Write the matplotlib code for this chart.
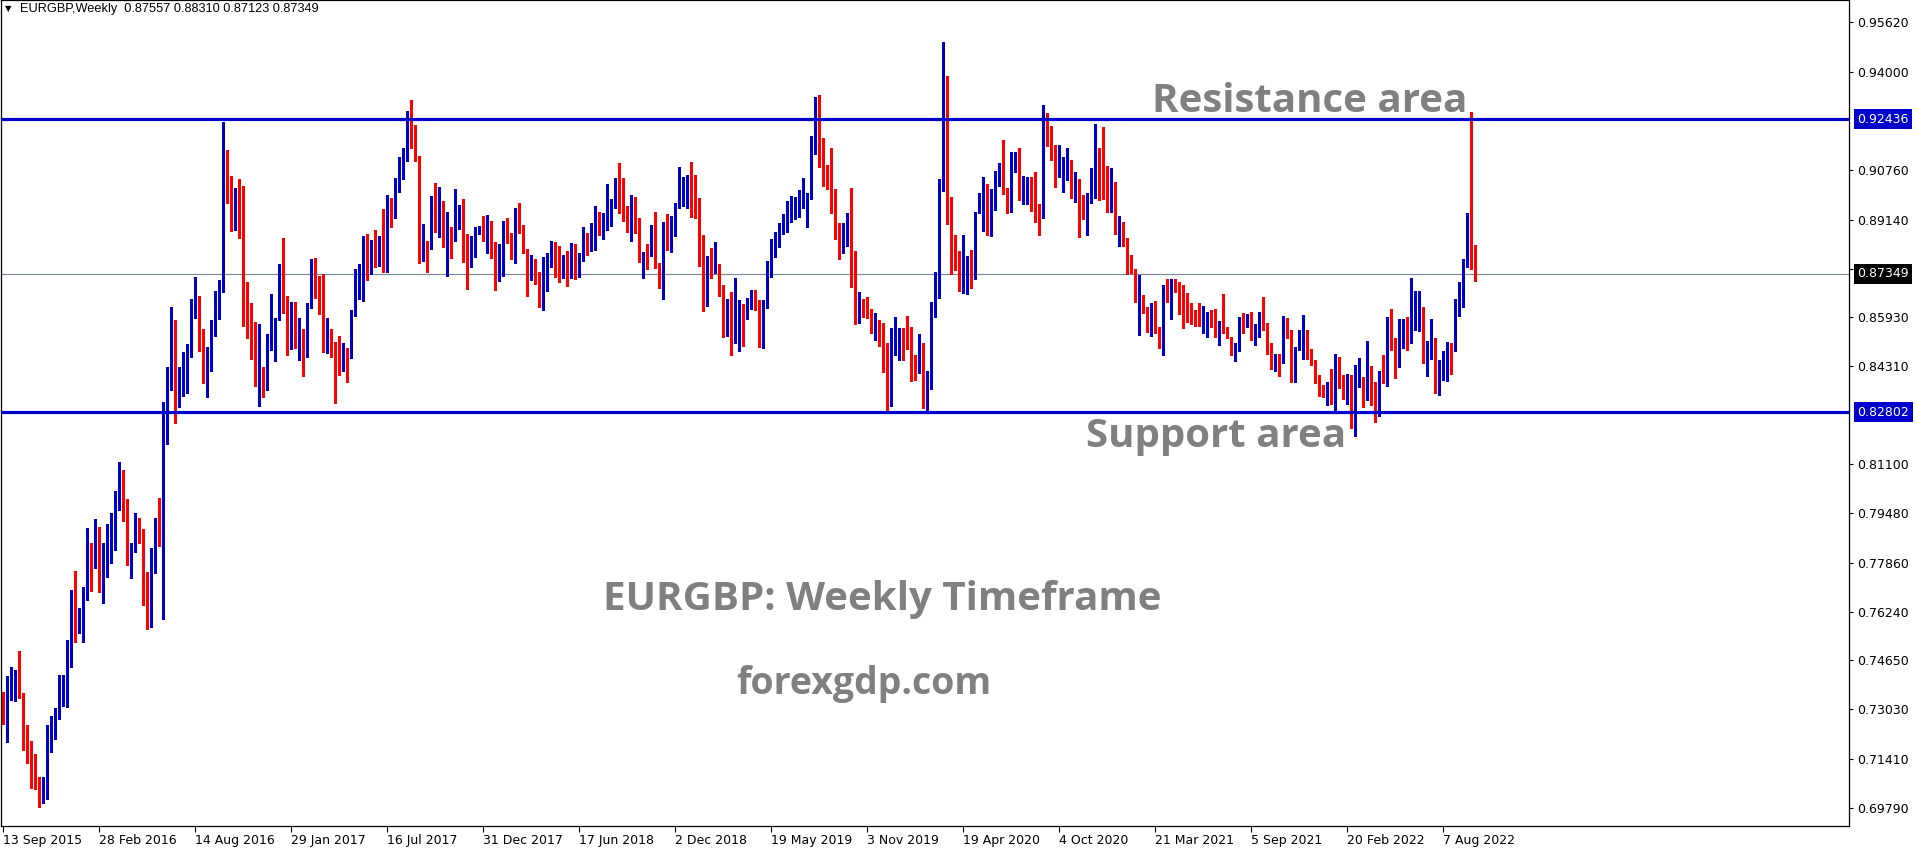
import numpy as np
import matplotlib
matplotlib.use('Agg')
from matplotlib import pyplot as plt

# EURGBP weekly candles, week of 13 Sep 2015 .. 2 Oct 2022
opens = [
    0.7350, 0.7260, 0.7365, 0.7383, 0.7420, 0.7354, 0.7194, 0.7139, 0.7126, 0.7044,
    0.7000, 0.7040, 0.7188, 0.7208, 0.7274, 0.7318, 0.7372, 0.7509, 0.7663, 0.7559,
    0.7597, 0.7682, 0.7748, 0.7778, 0.7871, 0.7726, 0.7753, 0.7791, 0.7895, 0.8010,
    0.8085, 0.7957, 0.7753, 0.7851, 0.7904, 0.7877, 0.7720, 0.7606, 0.7846, 0.7882,
    0.7829, 0.8200, 0.8377, 0.8527, 0.8356, 0.8345, 0.8419, 0.8466, 0.8627, 0.8653,
    0.8523, 0.8384, 0.8463, 0.8576, 0.8653, 0.8680, 0.9006, 0.9024, 0.8896, 0.9014,
    0.8896, 0.8613, 0.8578, 0.8501, 0.8358, 0.8378, 0.8364, 0.8516, 0.8516, 0.8591,
    0.8843, 0.8646, 0.8518, 0.8638, 0.8512, 0.8547, 0.8465, 0.8625, 0.8778, 0.8669,
    0.8669, 0.8493, 0.8547, 0.8469, 0.8501, 0.8423, 0.8485, 0.8480, 0.8608, 0.8715,
    0.8756, 0.8806, 0.8772, 0.8784, 0.8772, 0.8847, 0.8756, 0.8975, 0.8943, 0.9024,
    0.9088, 0.9134, 0.9243, 0.9165, 0.9113, 0.8789, 0.8819, 0.8819, 0.8958, 0.8882,
    0.8921, 0.8836, 0.8882, 0.8847, 0.8916, 0.8953, 0.8830, 0.8792, 0.8817, 0.8871,
    0.8896, 0.8871, 0.8887, 0.8830, 0.8786, 0.8812, 0.8867, 0.8850, 0.8786, 0.8942,
    0.8887, 0.8814, 0.8734, 0.8781, 0.8712, 0.8657, 0.8768, 0.8800, 0.8836, 0.8814,
    0.8739, 0.8772, 0.8726, 0.8775, 0.8730, 0.8794, 0.8852, 0.8812, 0.8828, 0.8937,
    0.8880, 0.8883, 0.8920, 0.8969, 0.9047, 0.8975, 0.8937, 0.8887, 0.8978, 0.8905,
    0.8779, 0.8814, 0.8808, 0.8885, 0.8750, 0.8759, 0.8885, 0.8838, 0.8898, 0.8964,
    0.8982, 0.8984, 0.9003, 0.8954, 0.8913, 0.8816, 0.8644, 0.8761, 0.8748, 0.8748,
    0.8675, 0.8584, 0.8646, 0.8512, 0.8545, 0.8606, 0.8600, 0.8636, 0.8646, 0.8625,
    0.8499, 0.8633, 0.8757, 0.8803, 0.8836, 0.8887, 0.8907, 0.8920, 0.8940, 0.8953,
    0.8965, 0.8973, 0.8984, 0.9143, 0.9287, 0.9123, 0.9086, 0.9039, 0.8986, 0.8863,
    0.8828, 0.8891, 0.8913, 0.8724, 0.8617, 0.8635, 0.8635, 0.8613, 0.8553, 0.8571,
    0.8534, 0.8419, 0.8339, 0.8520, 0.8529, 0.8531, 0.8527, 0.8531, 0.8436, 0.8414,
    0.8487, 0.8310, 0.8359, 0.8617, 0.8660, 0.9011, 0.9162, 0.8929, 0.8827, 0.8781,
    0.8690, 0.8748, 0.8783, 0.8721, 0.8937, 0.8945, 0.9014, 0.8896, 0.8973, 0.9048,
    0.9090, 0.9011, 0.8945, 0.9085, 0.9101, 0.8995, 0.9020, 0.9044, 0.9009, 0.8920,
    0.8926, 0.9258, 0.9159, 0.9101, 0.9055, 0.9064, 0.9075, 0.9079, 0.9006, 0.9031,
    0.8978, 0.8918, 0.8973, 0.9039, 0.9086, 0.9110, 0.8991, 0.8958, 0.9014, 0.8877,
    0.8891, 0.8850, 0.8772, 0.8748, 0.8644, 0.8663, 0.8624, 0.8581, 0.8587, 0.8551,
    0.8505, 0.8674, 0.8653, 0.8712, 0.8707, 0.8686, 0.8611, 0.8600, 0.8597, 0.8591,
    0.8581, 0.8584, 0.8587, 0.8581, 0.8542, 0.8567, 0.8547, 0.8523, 0.8474, 0.8501,
    0.8578, 0.8564, 0.8567, 0.8531, 0.8529, 0.8578, 0.8554, 0.8488, 0.8421, 0.8461,
    0.8443, 0.8567, 0.8531, 0.8392, 0.8487, 0.8523, 0.8527, 0.8485, 0.8436, 0.8399,
    0.8354, 0.8343, 0.8362, 0.8315, 0.8461, 0.8359, 0.8326, 0.8351, 0.8260, 0.8367,
    0.8386, 0.8326, 0.8423, 0.8367, 0.8274, 0.8419, 0.8384, 0.8537, 0.8493, 0.8463,
    0.8493, 0.8578, 0.8532, 0.8578, 0.8591, 0.8613, 0.8460, 0.8498, 0.8515, 0.8381,
    0.8427, 0.8450, 0.8493, 0.8485, 0.8644, 0.8677, 0.8762, 0.8951, 0.87557,
]
highs = [
    0.7361, 0.7413, 0.7442, 0.7433, 0.7495, 0.7356, 0.7252, 0.7200, 0.7156, 0.7082,
    0.7082, 0.7252, 0.7281, 0.7307, 0.7416, 0.7416, 0.7531, 0.7696, 0.7758, 0.7636,
    0.7707, 0.7901, 0.7849, 0.7928, 0.7904, 0.7849, 0.7913, 0.7948, 0.8022, 0.8118,
    0.8090, 0.7996, 0.7849, 0.7950, 0.7931, 0.7895, 0.7756, 0.7835, 0.7934, 0.7997,
    0.8315, 0.8430, 0.8627, 0.8584, 0.8430, 0.8480, 0.8505, 0.8653, 0.8726, 0.8663,
    0.8554, 0.8496, 0.8584, 0.8680, 0.8715, 0.9236, 0.9143, 0.9057, 0.9019, 0.9047,
    0.9024, 0.8710, 0.8638, 0.8578, 0.8571, 0.8430, 0.8538, 0.8669, 0.8589, 0.8768,
    0.8852, 0.8663, 0.8644, 0.8642, 0.8589, 0.8554, 0.8640, 0.8784, 0.8786, 0.8728,
    0.8735, 0.8589, 0.8554, 0.8512, 0.8531, 0.8507, 0.8490, 0.8617, 0.8750, 0.8768,
    0.8860, 0.8867, 0.8847, 0.8880, 0.8860, 0.8949, 0.8995, 0.8984, 0.9052, 0.9121,
    0.9150, 0.9272, 0.9307, 0.9225, 0.9123, 0.8898, 0.8843, 0.8991, 0.9033, 0.9020,
    0.8975, 0.8938, 0.8890, 0.9014, 0.8962, 0.8982, 0.8867, 0.8860, 0.8890, 0.8893,
    0.8926, 0.8929, 0.8909, 0.8841, 0.8834, 0.8909, 0.8920, 0.8871, 0.8953, 0.8970,
    0.8896, 0.8817, 0.8797, 0.8784, 0.8743, 0.8792, 0.8805, 0.8842, 0.8841, 0.8827,
    0.8797, 0.8810, 0.8838, 0.8834, 0.8805, 0.8891, 0.8869, 0.8902, 0.8958, 0.8939,
    0.8934, 0.9031, 0.8980, 0.9052, 0.9101, 0.9052, 0.8958, 0.8995, 0.8989, 0.8920,
    0.8806, 0.8834, 0.8896, 0.8938, 0.8770, 0.8907, 0.8931, 0.8926, 0.8969, 0.9086,
    0.9053, 0.9060, 0.9102, 0.9060, 0.8986, 0.8863, 0.8794, 0.8822, 0.8839, 0.8768,
    0.8699, 0.8652, 0.8677, 0.8723, 0.8650, 0.8636, 0.8655, 0.8683, 0.8683, 0.8650,
    0.8650, 0.8778, 0.8850, 0.8874, 0.8904, 0.8931, 0.8975, 0.8991, 0.8989, 0.9011,
    0.9049, 0.9002, 0.9189, 0.9318, 0.9323, 0.9181, 0.9093, 0.9148, 0.9013, 0.8902,
    0.8904, 0.8937, 0.9017, 0.8810, 0.8677, 0.8652, 0.8660, 0.8619, 0.8606, 0.8584,
    0.8573, 0.8507, 0.8556, 0.8592, 0.8556, 0.8556, 0.8597, 0.8562, 0.8469, 0.8538,
    0.8507, 0.8416, 0.8642, 0.8743, 0.9046, 0.9497, 0.9386, 0.8989, 0.8863, 0.8812,
    0.8863, 0.8794, 0.8814, 0.8940, 0.9000, 0.9055, 0.9030, 0.9013, 0.9074, 0.9101,
    0.9176, 0.9019, 0.9137, 0.9137, 0.9150, 0.9057, 0.9055, 0.9055, 0.9071, 0.8965,
    0.9291, 0.9263, 0.9222, 0.9159, 0.9159, 0.9121, 0.9148, 0.9110, 0.9069, 0.9047,
    0.8995, 0.9002, 0.9082, 0.9227, 0.9148, 0.9219, 0.9090, 0.9082, 0.9039, 0.8926,
    0.8907, 0.8852, 0.8797, 0.8750, 0.8732, 0.8666, 0.8628, 0.8641, 0.8646, 0.8562,
    0.8699, 0.8719, 0.8719, 0.8719, 0.8710, 0.8699, 0.8671, 0.8641, 0.8617, 0.8641,
    0.8630, 0.8611, 0.8616, 0.8619, 0.8581, 0.8669, 0.8562, 0.8527, 0.8507, 0.8595,
    0.8608, 0.8602, 0.8611, 0.8571, 0.8611, 0.8660, 0.8575, 0.8509, 0.8472, 0.8472,
    0.8597, 0.8589, 0.8551, 0.8494, 0.8551, 0.8600, 0.8551, 0.8487, 0.8452, 0.8403,
    0.8370, 0.8381, 0.8421, 0.8472, 0.8463, 0.8403, 0.8406, 0.8403, 0.8436, 0.8458,
    0.8397, 0.8516, 0.8432, 0.8381, 0.8416, 0.8469, 0.8595, 0.8620, 0.8523, 0.8587,
    0.8586, 0.8595, 0.8721, 0.8679, 0.8679, 0.8628, 0.8516, 0.8586, 0.8523, 0.8452,
    0.8483, 0.8510, 0.8509, 0.8652, 0.8710, 0.8783, 0.8937, 0.9267, 0.88310,
]
lows = [
    0.7255, 0.7197, 0.7334, 0.7332, 0.7340, 0.7170, 0.7126, 0.7044, 0.7040, 0.6983,
    0.6994, 0.7008, 0.7164, 0.7205, 0.7271, 0.7314, 0.7312, 0.7444, 0.7526, 0.7553,
    0.7526, 0.7663, 0.7694, 0.7767, 0.7690, 0.7652, 0.7737, 0.7786, 0.7827, 0.7959,
    0.7924, 0.7778, 0.7734, 0.7822, 0.7849, 0.7647, 0.7566, 0.7573, 0.7751, 0.7841,
    0.7599, 0.8176, 0.8353, 0.8246, 0.8299, 0.8334, 0.8343, 0.8463, 0.8589, 0.8483,
    0.8375, 0.8332, 0.8417, 0.8532, 0.8587, 0.8675, 0.8967, 0.8877, 0.8880, 0.8854,
    0.8564, 0.8526, 0.8455, 0.8368, 0.8301, 0.8332, 0.8353, 0.8485, 0.8450, 0.8582,
    0.8608, 0.8469, 0.8488, 0.8490, 0.8452, 0.8400, 0.8463, 0.8622, 0.8655, 0.8603,
    0.8480, 0.8474, 0.8463, 0.8312, 0.8403, 0.8417, 0.8381, 0.8458, 0.8597, 0.8653,
    0.8647, 0.8715, 0.8734, 0.8759, 0.8762, 0.8743, 0.8743, 0.8891, 0.8920, 0.9006,
    0.9047, 0.9108, 0.9148, 0.9108, 0.8772, 0.8776, 0.8743, 0.8816, 0.8874, 0.8856,
    0.8825, 0.8729, 0.8789, 0.8843, 0.8882, 0.8775, 0.8686, 0.8759, 0.8792, 0.8867,
    0.8845, 0.8805, 0.8786, 0.8682, 0.8713, 0.8729, 0.8838, 0.8783, 0.8770, 0.8871,
    0.8803, 0.8663, 0.8715, 0.8701, 0.8628, 0.8617, 0.8680, 0.8759, 0.8726, 0.8710,
    0.8723, 0.8697, 0.8723, 0.8717, 0.8724, 0.8778, 0.8797, 0.8810, 0.8814, 0.8863,
    0.8850, 0.8880, 0.8893, 0.8951, 0.8937, 0.8910, 0.8874, 0.8843, 0.8871, 0.8775,
    0.8723, 0.8750, 0.8795, 0.8756, 0.8690, 0.8653, 0.8814, 0.8808, 0.8861, 0.8951,
    0.8959, 0.8953, 0.8923, 0.8920, 0.8762, 0.8614, 0.8630, 0.8723, 0.8739, 0.8663,
    0.8529, 0.8531, 0.8469, 0.8507, 0.8483, 0.8499, 0.8587, 0.8619, 0.8617, 0.8496,
    0.8490, 0.8622, 0.8724, 0.8792, 0.8825, 0.8866, 0.8872, 0.8905, 0.8916, 0.8923,
    0.8951, 0.8891, 0.8980, 0.9129, 0.9088, 0.9024, 0.9013, 0.8937, 0.8849, 0.8784,
    0.8803, 0.8828, 0.8693, 0.8570, 0.8575, 0.8595, 0.8589, 0.8542, 0.8518, 0.8498,
    0.8411, 0.8284, 0.8302, 0.8469, 0.8452, 0.8452, 0.8487, 0.8384, 0.8386, 0.8408,
    0.8293, 0.8282, 0.8356, 0.8592, 0.8655, 0.9009, 0.8899, 0.8735, 0.8748, 0.8679,
    0.8671, 0.8669, 0.8690, 0.8719, 0.8934, 0.8876, 0.8863, 0.8861, 0.8945, 0.9025,
    0.8998, 0.8937, 0.8940, 0.9071, 0.8978, 0.8965, 0.8965, 0.8943, 0.8907, 0.8863,
    0.8918, 0.9156, 0.9110, 0.9022, 0.9053, 0.9006, 0.9044, 0.8984, 0.8973, 0.8858,
    0.8915, 0.8863, 0.8970, 0.8984, 0.8978, 0.8980, 0.8940, 0.8940, 0.8865, 0.8828,
    0.8827, 0.8735, 0.8737, 0.8644, 0.8534, 0.8606, 0.8545, 0.8531, 0.8542, 0.8490,
    0.8469, 0.8644, 0.8586, 0.8675, 0.8603, 0.8556, 0.8578, 0.8569, 0.8564, 0.8564,
    0.8540, 0.8527, 0.8562, 0.8527, 0.8501, 0.8540, 0.8523, 0.8469, 0.8450, 0.8483,
    0.8540, 0.8560, 0.8518, 0.8501, 0.8527, 0.8551, 0.8472, 0.8421, 0.8417, 0.8400,
    0.8441, 0.8523, 0.8381, 0.8381, 0.8485, 0.8454, 0.8454, 0.8436, 0.8378, 0.8334,
    0.8332, 0.8304, 0.8307, 0.8282, 0.8359, 0.8323, 0.8307, 0.8227, 0.8202, 0.8362,
    0.8299, 0.8320, 0.8304, 0.8249, 0.8268, 0.8378, 0.8367, 0.8485, 0.8392, 0.8430,
    0.8490, 0.8485, 0.8509, 0.8551, 0.8549, 0.8441, 0.8400, 0.8454, 0.8345, 0.8337,
    0.8386, 0.8383, 0.8406, 0.8483, 0.8597, 0.8625, 0.8759, 0.8750, 0.87123,
]
closes = [
    0.7268, 0.7378, 0.7383, 0.7416, 0.7345, 0.7194, 0.7131, 0.7131, 0.7069, 0.7005,
    0.7047, 0.7199, 0.7219, 0.7298, 0.7334, 0.7367, 0.7526, 0.7657, 0.7564, 0.7603,
    0.7693, 0.7758, 0.7723, 0.7880, 0.7726, 0.7753, 0.7781, 0.7901, 0.8005, 0.8068,
    0.7942, 0.7786, 0.7838, 0.7901, 0.7877, 0.7737, 0.7599, 0.7827, 0.7890, 0.7849,
    0.8126, 0.8386, 0.8526, 0.8357, 0.8372, 0.8447, 0.8480, 0.8636, 0.8658, 0.8520,
    0.8392, 0.8463, 0.8582, 0.8655, 0.8658, 0.9000, 0.9002, 0.8894, 0.9011, 0.8894,
    0.8617, 0.8570, 0.8485, 0.8378, 0.8395, 0.8367, 0.8507, 0.8531, 0.8571, 0.8721,
    0.8647, 0.8521, 0.8638, 0.8516, 0.8547, 0.8469, 0.8638, 0.8768, 0.8663, 0.8652,
    0.8485, 0.8560, 0.8466, 0.8373, 0.8414, 0.8474, 0.8479, 0.8592, 0.8728, 0.8751,
    0.8784, 0.8759, 0.8801, 0.8762, 0.8850, 0.8745, 0.8975, 0.8943, 0.9024, 0.9086,
    0.9134, 0.9254, 0.9154, 0.9110, 0.8789, 0.8860, 0.8814, 0.8978, 0.8894, 0.8932,
    0.8838, 0.8876, 0.8841, 0.8920, 0.8949, 0.8828, 0.8779, 0.8819, 0.8874, 0.8882,
    0.8864, 0.8880, 0.8814, 0.8779, 0.8819, 0.8860, 0.8845, 0.8800, 0.8929, 0.8882,
    0.8808, 0.8735, 0.8784, 0.8712, 0.8657, 0.8772, 0.8801, 0.8839, 0.8816, 0.8734,
    0.8757, 0.8734, 0.8778, 0.8734, 0.8789, 0.8847, 0.8838, 0.8830, 0.8926, 0.8894,
    0.8896, 0.8932, 0.8973, 0.9044, 0.8953, 0.8940, 0.8891, 0.8986, 0.8899, 0.8781,
    0.8786, 0.8808, 0.8885, 0.8779, 0.8734, 0.8898, 0.8836, 0.8872, 0.8951, 0.8982,
    0.8991, 0.9011, 0.8951, 0.8926, 0.8825, 0.8639, 0.8757, 0.8745, 0.8761, 0.8677,
    0.8598, 0.8630, 0.8516, 0.8554, 0.8606, 0.8600, 0.8638, 0.8647, 0.8628, 0.8499,
    0.8638, 0.8775, 0.8814, 0.8843, 0.8896, 0.8904, 0.8920, 0.8953, 0.8958, 0.8958,
    0.8969, 0.8986, 0.9129, 0.9313, 0.9126, 0.9060, 0.9031, 0.8969, 0.8854, 0.8834,
    0.8902, 0.8898, 0.8718, 0.8620, 0.8631, 0.8622, 0.8619, 0.8565, 0.8586, 0.8509,
    0.8417, 0.8335, 0.8518, 0.8540, 0.8531, 0.8509, 0.8520, 0.8432, 0.8397, 0.8494,
    0.8299, 0.8372, 0.8598, 0.8652, 0.9031, 0.9214, 0.8927, 0.8808, 0.8779, 0.8690,
    0.8750, 0.8786, 0.8732, 0.8938, 0.8958, 0.8991, 0.8907, 0.8973, 0.9052, 0.9093,
    0.9000, 0.8945, 0.9090, 0.9107, 0.8995, 0.9028, 0.9044, 0.9009, 0.8913, 0.8915,
    0.9254, 0.9159, 0.9121, 0.9052, 0.9064, 0.9077, 0.9090, 0.8987, 0.9031, 0.8962,
    0.8920, 0.8986, 0.9020, 0.9151, 0.9071, 0.8995, 0.8942, 0.9011, 0.8887, 0.8894,
    0.8856, 0.8768, 0.8745, 0.8649, 0.8666, 0.8611, 0.8584, 0.8589, 0.8549, 0.8505,
    0.8686, 0.8653, 0.8712, 0.8699, 0.8693, 0.8611, 0.8603, 0.8586, 0.8584, 0.8575,
    0.8595, 0.8598, 0.8575, 0.8542, 0.8578, 0.8558, 0.8536, 0.8472, 0.8504, 0.8587,
    0.8573, 0.8571, 0.8534, 0.8542, 0.8571, 0.8554, 0.8496, 0.8436, 0.8463, 0.8443,
    0.8571, 0.8529, 0.8392, 0.8488, 0.8547, 0.8531, 0.8487, 0.8443, 0.8406, 0.8356,
    0.8343, 0.8370, 0.8318, 0.8465, 0.8362, 0.8326, 0.8403, 0.8260, 0.8370, 0.8386,
    0.8332, 0.8421, 0.8343, 0.8282, 0.8412, 0.8381, 0.8548, 0.8487, 0.8450, 0.8494,
    0.8581, 0.8542, 0.8589, 0.8600, 0.8619, 0.8460, 0.8501, 0.8505, 0.8392, 0.8430,
    0.8452, 0.8487, 0.8487, 0.8646, 0.8669, 0.8765, 0.8932, 0.8781, 0.87349,
]

# one date label every 24 weeks, starting at the first candle
date_labels = ['13 Sep 2015', '28 Feb 2016', '14 Aug 2016', '29 Jan 2017', '16 Jul 2017',
               '31 Dec 2017', '17 Jun 2018', '2 Dec 2018', '19 May 2019', '3 Nov 2019',
               '19 Apr 2020', '4 Oct 2020', '21 Mar 2021', '5 Sep 2021', '20 Feb 2022',
               '7 Aug 2022']
price_ticks = [0.95620, 0.94000, 0.90760, 0.89140, 0.87520, 0.85930, 0.84310, 0.81100,
               0.79480, 0.77860, 0.76240, 0.74650, 0.73030, 0.71410, 0.69790]

resistance = 0.92436
support = 0.82802
bid = 0.87349

BLUE = '#0000CD'
RED = '#FF0000'
GRAY = '#808080'

o = np.array(opens)
h = np.array(highs)
l = np.array(lows)
c = np.array(closes)
x = np.arange(len(o))
col = np.where(c >= o, BLUE, RED)

fig = plt.figure(figsize=(19.16, 8.5), dpi=100)
fig.patch.set_facecolor('white')
ax = fig.add_axes([1 / 1916, 1 - 826 / 850, 1848 / 1916, 826 / 850])

ax.axhline(bid, color='#778899', lw=0.8, zorder=1)
ax.vlines(x, l, h, colors=col, linewidth=1.0, antialiased=False, zorder=2)
body = np.maximum(np.abs(c - o), 0.00035)
ax.bar(x, body, bottom=np.minimum(o, c), width=0.75, color=col, linewidth=0,
       antialiased=False, zorder=2)
ax.axhline(resistance, color=BLUE, lw=2.3, zorder=3)
ax.axhline(support, color=BLUE, lw=2.3, zorder=3)

ax.set_xlim(-0.5, 461.5)
ax.set_ylim(0.69197, 0.96359)

ax.set_xticks(np.arange(0, 24 * len(date_labels), 24))
ax.set_xticklabels(date_labels, ha='left')
ax.tick_params(axis='x', direction='out', length=4, width=0.8, pad=2, labelsize=9)

ax.yaxis.tick_right()
ax.set_yticks(price_ticks)
ax.set_yticklabels(['%.5f' % p for p in price_ticks])
ax.tick_params(axis='y', direction='out', length=3, width=0.8, pad=3, labelsize=9)
for s in ax.spines.values():
    s.set_linewidth(0.9)

# price boxes on the right scale, lined up with the tick labels
for val, bg in [(resistance, BLUE), (support, BLUE), (bid, 'black')]:
    ax.text(1.0045, val, '%.5f' % val, transform=ax.get_yaxis_transform(), ha='left',
            va='center', fontsize=9, color='white', clip_on=False, zorder=5,
            bbox=dict(boxstyle='square,pad=0.28', fc=bg, ec='none'))

# header line
fig.text(5 / 1916, 1 - 9 / 850, '\u25bc', fontsize=6, va='center', ha='left')
fig.text(20 / 1916, 1 - 9 / 850, 'EURGBP,Weekly  0.87557 0.88310 0.87123 0.87349',
         fontsize=9.2, family=['Liberation Sans', 'DejaVu Sans'], va='center', ha='left')

big = dict(family=['Open Sans', 'DejaVu Sans'], weight='bold', color=GRAY,
           ha='center', va='baseline')
fig.text(1310 / 1916, 1 - 112 / 850, 'Resistance area', fontsize=29, **big)
fig.text(1216 / 1916, 1 - 447 / 850, 'Support area', fontsize=29, **big)
fig.text(882 / 1916, 1 - 610 / 850, 'EURGBP: Weekly Timeframe', fontsize=29, **big)
fig.text(864 / 1916, 1 - 694 / 850, 'forexgdp.com', fontsize=27, **big)

fig.savefig('out.png', dpi=100)
